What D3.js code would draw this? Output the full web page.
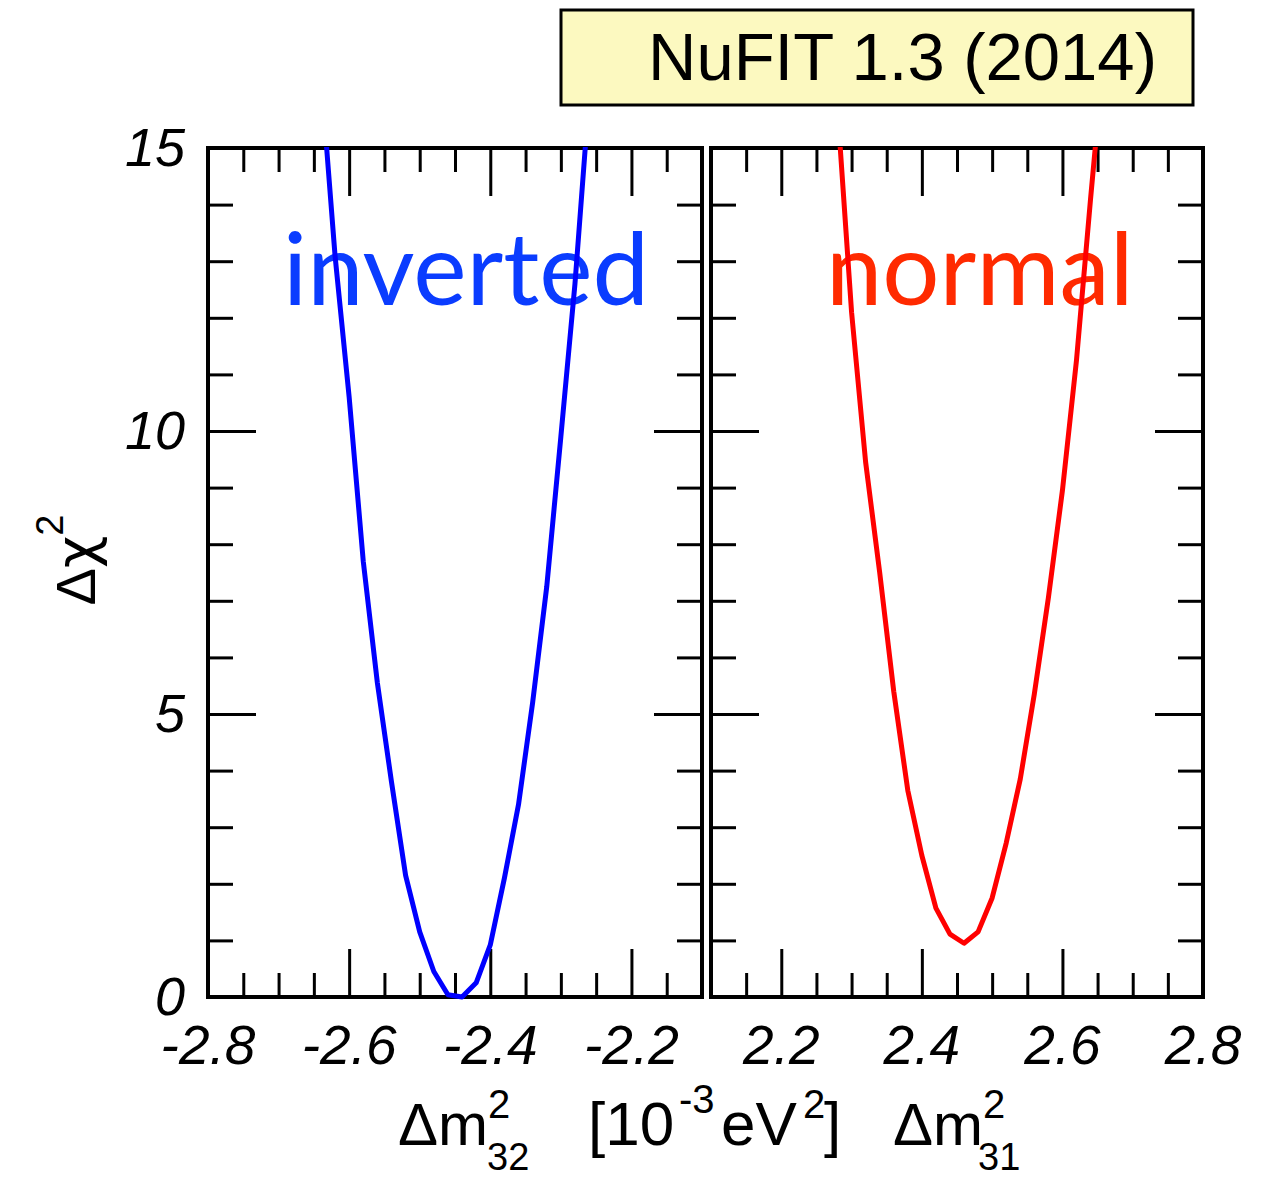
<!DOCTYPE html>
<html>
<head>
<meta charset="utf-8">
<script src="https://cdn.jsdelivr.net/npm/d3@7"></script>
<style>
  body { margin: 0; background: #fff; }
  svg { display: block; }
</style>
</head>
<body>
<div id="chart"></div>
<script>
// delta chi^2 vs delta m^2 for the two mass orderings

var invX   = [-2.64, -2.62, -2.60, -2.58, -2.56, -2.54, -2.52, -2.50, -2.48, -2.46, -2.44, -2.42, -2.40, -2.38, -2.36, -2.34, -2.32, -2.30, -2.28, -2.26];
var invChi = [16.3, 13.1, 10.6, 7.7, 5.55, 3.8, 2.15, 1.15, 0.45, 0.04, 0.0, 0.25, 0.92, 2.1, 3.4, 5.2, 7.25, 9.9, 12.6, 15.9];

var norX   = [2.28, 2.30, 2.32, 2.34, 2.36, 2.38, 2.40, 2.42, 2.44, 2.46, 2.48, 2.50, 2.52, 2.54, 2.56, 2.58, 2.60, 2.62, 2.64, 2.66];
var norChi = [15.7, 12.1, 9.45, 7.5, 5.4, 3.65, 2.5, 1.57, 1.11, 0.95, 1.15, 1.75, 2.72, 3.85, 5.35, 7.05, 8.95, 11.25, 14.1, 16.8];

var invTickLabels = [-2.8, -2.6, -2.4, -2.2];
var norTickLabels = [2.2, 2.4, 2.6, 2.8];
var chiTickLabels = [0, 5, 10, 15];

var W = 1277, H = 1180;
var yTop = 148, yBot = 997;

var svg = d3.select("#chart").append("svg")
    .attr("width", W)
    .attr("height", H);

var y = d3.scaleLinear().domain([0, 15]).range([yBot, yTop]);

var panels = [
    { id: "inv", x: d3.scaleLinear().domain([-2.8, -2.1]).range([208, 702]), xs: invX, ys: invChi,
      color: "#0000ff", label: "inverted", labelColor: "#0a3cff", labelX: 283, ticks: invTickLabels },
    { id: "nor", x: d3.scaleLinear().domain([2.1, 2.8]).range([711, 1203]), xs: norX, ys: norChi,
      color: "#ff0000", label: "normal", labelColor: "#ff2a00", labelX: 826, ticks: norTickLabels }
];

var minorY = d3.range(1, 15).filter(function (v) { return v % 5 !== 0; });
var majorY = [5, 10];

panels.forEach(function (p) {
    var x = p.x;
    var lo = x.domain()[0], hi = x.domain()[1];
    var allX = d3.range(0, 15).map(function (i) { return +(lo + i * 0.05).toFixed(2); })
        .filter(function (v) { return v > lo + 1e-6 && v < hi - 1e-6; });
    var majorX = allX.filter(function (v) { return Math.abs(Math.round(v * 5) - v * 5) < 1e-6; });
    var minorX = allX.filter(function (v) { return majorX.indexOf(v) < 0; });

    var g = svg.append("g");

    // clip
    svg.append("clipPath").attr("id", "clip-" + p.id)
        .append("rect")
        .attr("x", x.range()[0]).attr("y", yTop - 1)
        .attr("width", x.range()[1] - x.range()[0])
        .attr("height", yBot - yTop + 4);

    // big label
    g.append("text")
        .attr("x", p.labelX)
        .attr("y", 305)
        .attr("fill", p.labelColor)
        .style("font-family", "Lato, 'Open Sans', sans-serif")
        .style("font-size", "101px")
        .text(p.label);

    function addAxis(axisFn, vals, size, ty) {
        g.append("g")
            .attr("transform", ty)
            .call(axisFn.tickValues(vals).tickSize(size).tickFormat(""))
            .call(function (s) {
                s.select(".domain").remove();
                s.selectAll(".tick line").attr("stroke", "#000").attr("stroke-width", 3);
            });
    }

    // x ticks, bottom + top
    addAxis(d3.axisBottom(x), minorX, -24, "translate(0," + yBot + ")");
    addAxis(d3.axisBottom(x), majorX, -48, "translate(0," + yBot + ")");
    addAxis(d3.axisTop(x), minorX, -24, "translate(0," + yTop + ")");
    addAxis(d3.axisTop(x), majorX, -48, "translate(0," + yTop + ")");

    // y ticks, left + right
    addAxis(d3.axisLeft(y), minorY, -25, "translate(" + x.range()[0] + ",0)");
    addAxis(d3.axisLeft(y), majorY, -48, "translate(" + x.range()[0] + ",0)");
    addAxis(d3.axisRight(y), minorY, -25, "translate(" + x.range()[1] + ",0)");
    addAxis(d3.axisRight(y), majorY, -48, "translate(" + x.range()[1] + ",0)");

    // frame
    g.append("rect")
        .attr("x", x.range()[0]).attr("y", yTop)
        .attr("width", x.range()[1] - x.range()[0])
        .attr("height", yBot - yTop)
        .attr("fill", "none")
        .attr("stroke", "#000")
        .attr("stroke-width", 4);

    // x tick labels
    g.selectAll(".xlab")
        .data(p.ticks)
        .enter()
        .append("text")
        .attr("x", function (d) { return x(d); })
        .attr("y", 1064)
        .attr("text-anchor", "middle")
        .style("font-family", "'Liberation Sans', Arial, sans-serif")
        .style("font-style", "italic")
        .style("font-size", "55px")
        .text(function (d) { return d.toFixed(1); });

    // curve
    var pts = p.xs.map(function (v, i) { return [v, p.ys[i]]; });
    svg.append("path")
        .datum(pts)
        .attr("clip-path", "url(#clip-" + p.id + ")")
        .attr("fill", "none")
        .attr("stroke", p.color)
        .attr("stroke-width", 5)
        .attr("stroke-linejoin", "round")
        .attr("d", d3.line().x(function (d) { return x(d[0]); }).y(function (d) { return y(d[1]); }));
});

// y tick labels
svg.selectAll(".ylab")
    .data(chiTickLabels)
    .enter()
    .append("text")
    .attr("x", 185)
    .attr("y", function (d) { return y(d) + 18; })
    .attr("text-anchor", "end")
    .style("font-family", "'Liberation Sans', Arial, sans-serif")
    .style("font-style", "italic")
    .style("font-size", "54px")
    .text(function (d) { return d; });

// y title
var yt = svg.append("text")
    .attr("transform", "translate(95,560) rotate(-90)")
    .attr("text-anchor", "middle")
    .style("font-family", "'Liberation Sans', Arial, sans-serif")
    .style("font-size", "56px");
yt.append("tspan").text("\u0394");
yt.append("tspan").style("font-family", "'DejaVu Sans', sans-serif").text("\u03c7");
yt.append("tspan").attr("dy", -32).style("font-size", "38px").text("2");

// x title
var xt = svg.append("text")
    .style("font-family", "'Liberation Sans', Arial, sans-serif");
var parts = [
    { t: "\u0394m", x: 398, y: 1145, s: 60 },
    { t: "2", x: 488, y: 1118, s: 40 },
    { t: "32", x: 487, y: 1170, s: 38 },
    { t: "[10", x: 588, y: 1145, s: 62 },
    { t: "-3", x: 679, y: 1113, s: 40 },
    { t: "eV", x: 721, y: 1145, s: 62 },
    { t: "2", x: 803, y: 1118, s: 40 },
    { t: "]", x: 824, y: 1145, s: 62 },
    { t: "\u0394m", x: 893, y: 1145, s: 60 },
    { t: "2", x: 983, y: 1118, s: 40 },
    { t: "31", x: 978, y: 1170, s: 38 }
];
parts.forEach(function (q) {
    xt.append("tspan").attr("x", q.x).attr("y", q.y).style("font-size", q.s + "px").text(q.t);
});

// title box
svg.append("rect")
    .attr("x", 561).attr("y", 10)
    .attr("width", 632).attr("height", 95)
    .attr("fill", "#fcf9c0")
    .attr("stroke", "#000")
    .attr("stroke-width", 3);
svg.append("text")
    .attr("x", 648).attr("y", 80)
    .style("font-family", "'Liberation Sans', Arial, sans-serif")
    .style("font-size", "67px")
    .text("NuFIT 1.3 (2014)");
</script>
</body>
</html>
